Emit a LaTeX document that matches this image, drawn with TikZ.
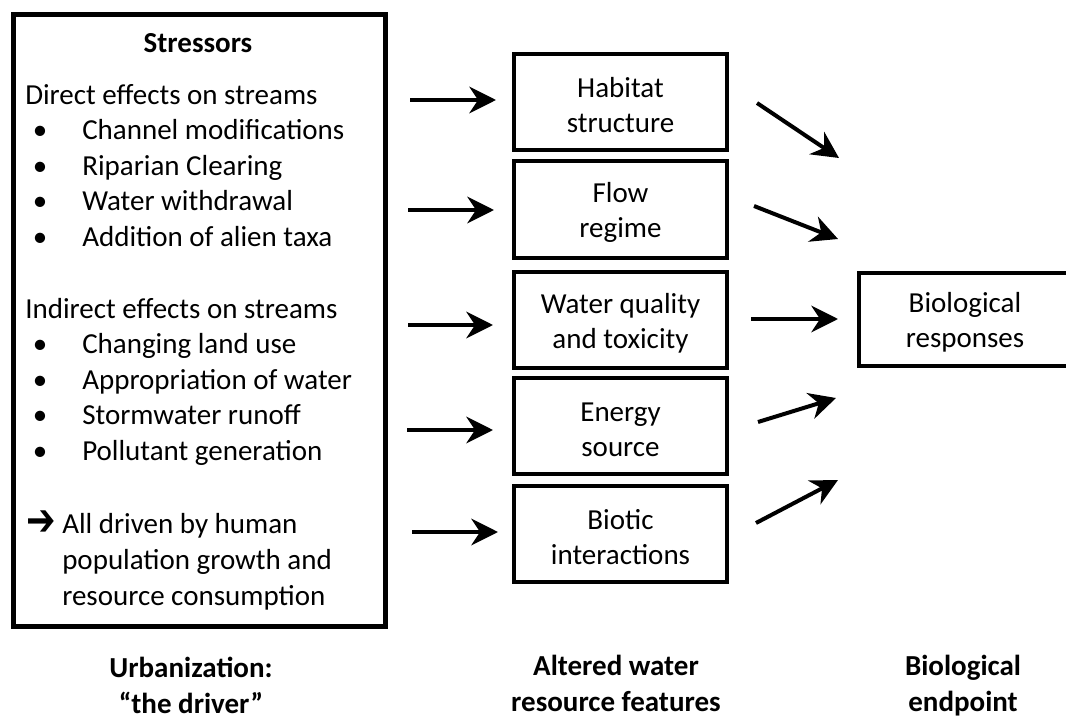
\documentclass[tikz,border=0pt]{standalone}
\usepackage{fontspec}
\usepackage{graphicx}
\setmainfont{Carlito}
\newfontfamily\dingfont{DejaVu Sans}
\usetikzlibrary{arrows.meta}

\tikzset{
  txt/.style={font=\fontsize{21.75pt}{26.25pt}\selectfont, inner sep=0pt},
  line/.style={txt, anchor=base west},
  bul/.style={txt, anchor=base},
  head/.style={txt, font=\fontsize{21.75pt}{27pt}\selectfont\bfseries, align=center, inner sep=0pt},
  featbox/.style={draw, line width=3pt, minimum width=159.75pt, minimum height=72pt,
    align=center, inner sep=0pt, font=\fontsize{21.75pt}{26.25pt}\selectfont},
  lbl/.style={txt, align=center},
  arr/.style={line width=3pt, -{Stealth[length=20pt, width=20pt, inset=6.5pt]}},
}

\begin{document}
\begin{tikzpicture}[x=0.75pt, y=-0.75pt]
\useasboundingbox (0,0) rectangle (1066,720);

% stressor panel
\node[draw, line width=3.75pt, minimum width=279pt, minimum height=459pt,
      anchor=north west, inner sep=0pt] (stress) at (11,12) {};
\node[txt, font=\fontsize{21.75pt}{26.25pt}\selectfont\bfseries, anchor=base] (title) at (198,53) {Stressors};

\node[line] (d0) at (25,105) {Direct effects on streams};
\node[bul] (db1) at (40,140) {•}; \node[line] (d1) at (82,140) {Channel modifications};
\node[bul] (db2) at (40,175.5) {•};   \node[line] (d2) at (82,175.5) {Riparian Clearing};
\node[bul] (db3) at (40,211) {•}; \node[line] (d3) at (82,211) {Water withdrawal};
\node[bul] (db4) at (40,246.5) {•};   \node[line] (d4) at (82,246.5) {Addition of alien taxa};

\node[line] (i0) at (25,318) {Indirect effects on streams};
\node[bul] (ib1) at (40,353.5) {•}; \node[line] (i1) at (82,353.5) {Changing land use};
\node[bul] (ib2) at (40,389) {•};   \node[line] (i2) at (82,389) {Appropriation of water};
\node[bul] (ib3) at (40,424.5) {•}; \node[line] (i3) at (82,424.5) {Stormwater runoff};
\node[bul] (ib4) at (40,460) {•};   \node[line] (i4) at (82,460) {Pollutant generation};

\node[txt, anchor=west, font=\fontsize{24pt}{26pt}\dingfont] (ar) at (26,523) {\scalebox{1.1}[1.4]{➔}};
\node[line] (a1) at (62,533) {All driven by human};
\node[line] (a2) at (62,569) {population growth and};
\node[line] (a3) at (62,605) {resource consumption};

% altered features: frames, then their two-line labels
\node[featbox] (hab) at (620.5,102) {};
\node[featbox] (flow) at (620.5,209.5) {};
\node[featbox] (wq) at (620.5,319.5) {};
\node[featbox] (en) at (620.5,426) {};
\node[featbox] (bio) at (620.5,533.5) {};
\node[lbl, yshift=-2.5pt] (habt) at (hab) {Habitat\\structure};
\node[lbl, yshift=-2.5pt] (flowt) at (flow) {Flow\\regime};
\node[lbl, yshift=-2.5pt] (wqt) at (wq) {Water quality\\and toxicity};
\node[lbl, yshift=-2.5pt] (ent) at (en) {Energy\\source};
\node[lbl, yshift=-2.5pt] (biot) at (bio) {Biotic\\interactions};

% endpoint
\node[featbox, minimum width=159pt, minimum height=69.75pt] (resp) at (965,319.5) {};
\node[lbl, yshift=-2pt] (respt) at (resp) {Biological\\responses};

% arrows into the features
\coordinate (l1s) at (410,100); \coordinate (l1e) at (496,100);
\coordinate (l2s) at (408,210); \coordinate (l2e) at (494,210);
\coordinate (l3s) at (408,325); \coordinate (l3e) at (493,325);
\coordinate (l4s) at (407,430); \coordinate (l4e) at (493,430);
\coordinate (l5s) at (412,532); \coordinate (l5e) at (498,532);
\foreach \i in {1,...,5} \draw[arr] (l\i s) -- (l\i e);

% arrows towards the endpoint
\coordinate (r1s) at (757,103); \coordinate (r1e) at (839,158);
\coordinate (r2s) at (754,206); \coordinate (r2e) at (838,239);
\coordinate (r3s) at (751,319); \coordinate (r3e) at (838,319);
\coordinate (r4s) at (758,422); \coordinate (r4e) at (836,398);
\coordinate (r5s) at (756,523); \coordinate (r5e) at (838,480);
\foreach \i in {1,...,5} \draw[arr] (r\i s) -- (r\i e);

% column captions
\node[head, anchor=base] (c1) at (191,713) {Urbanization:\\“the driver”};
\node[head, anchor=base] (c2) at (616,711) {Altered water\\resource features};
\node[head, anchor=base] (c3) at (963,711) {Biological\\endpoint};
\end{tikzpicture}
\end{document}
